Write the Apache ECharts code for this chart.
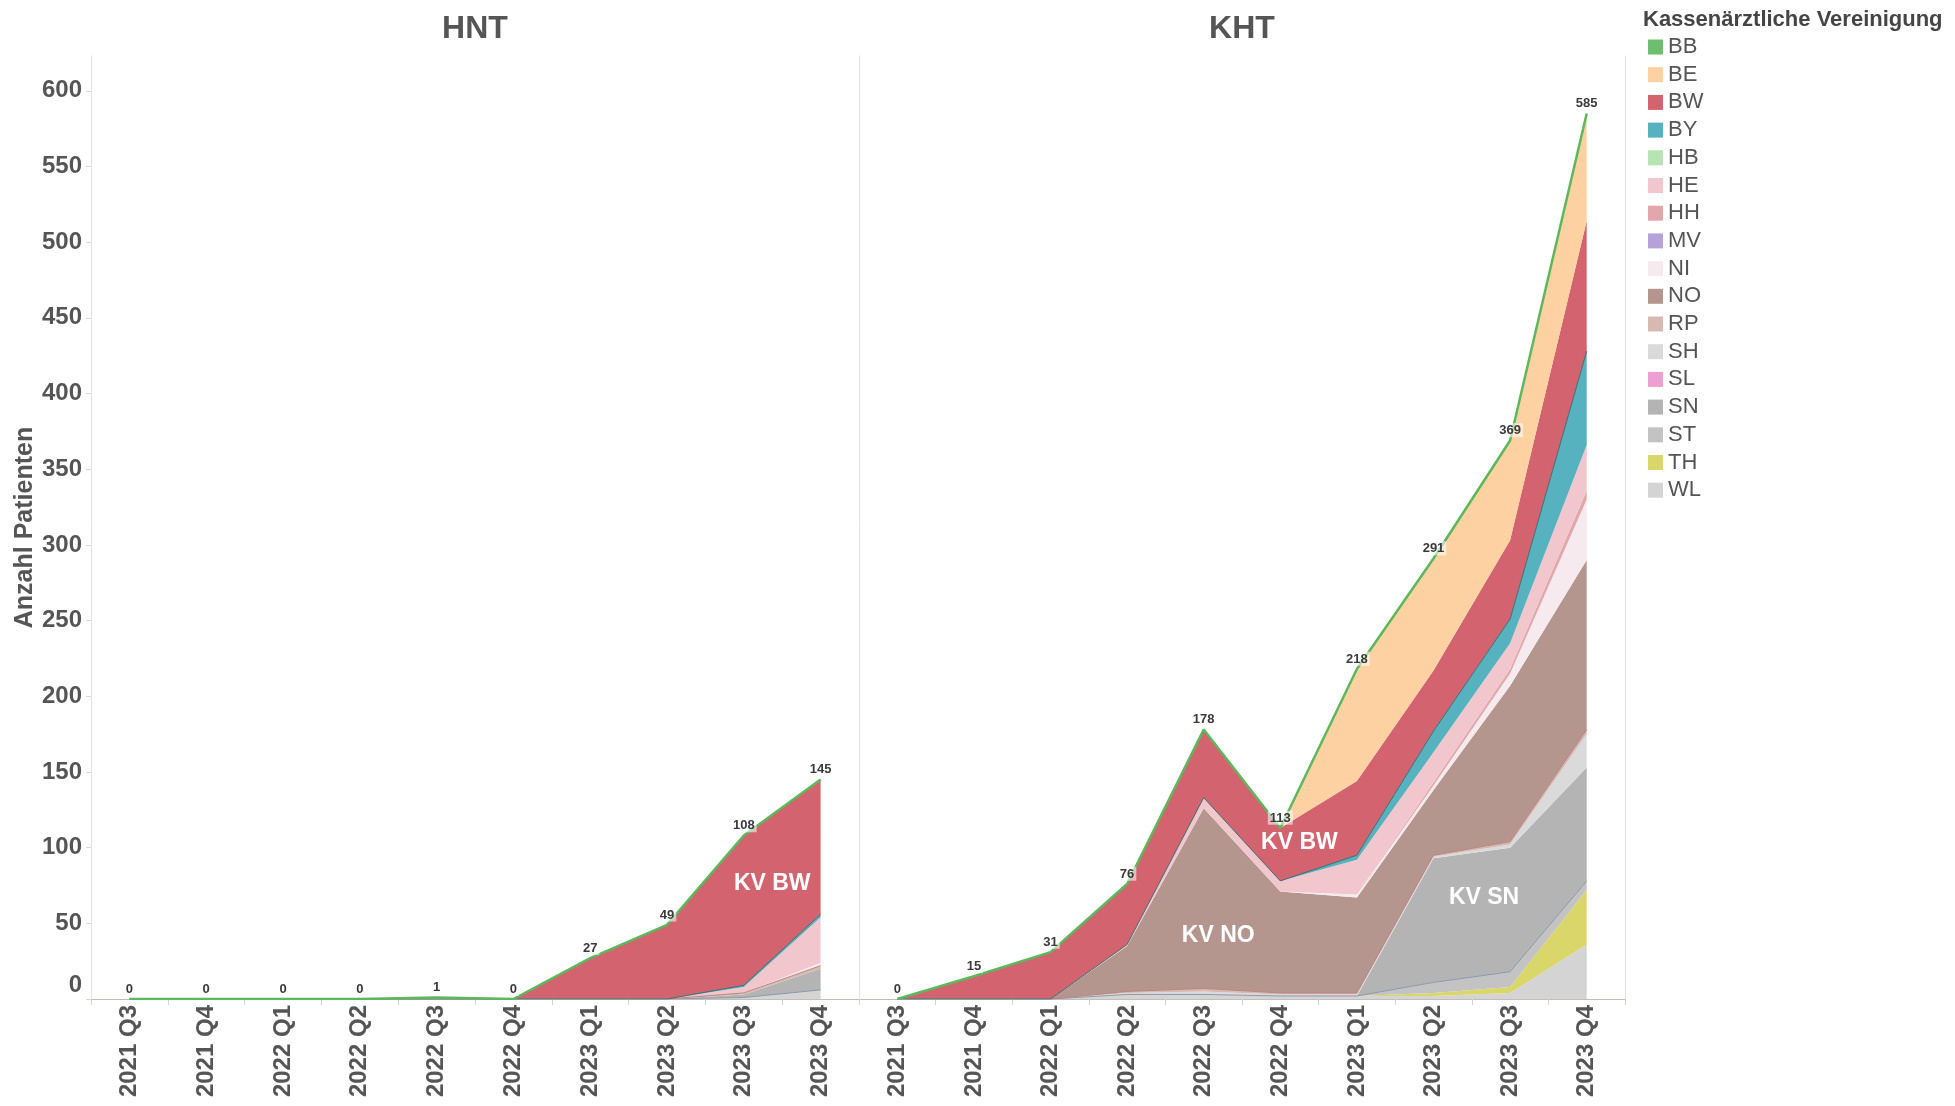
<!DOCTYPE html>
<html>
<head>
<meta charset="utf-8">
<script src="https://cdn.jsdelivr.net/npm/echarts@6/dist/echarts.min.js"></script>
<style>html,body{margin:0;padding:0;background:#fff;}#c{width:1955px;height:1106px;}</style>
</head>
<body>
<div id="c"></div>
<script>
// ---------- DATA ----------
const categories = ['2021 Q3','2021 Q4','2022 Q1','2022 Q2','2022 Q3','2022 Q4','2023 Q1','2023 Q2','2023 Q3','2023 Q4'];
const kvNames = ['BB','BE','BW','BY','HB','HE','HH','MV','NI','NO','RP','SH','SL','SN','ST','TH','WL'];
const panelTitles = ['HNT','KHT'];
const yTicks = [0,50,100,150,200,250,300,350,400,450,500,550,600];

// HNT
const hnt_BB = [0,0,0,0,1,0,0,0,0,0];
const hnt_BE = [0,0,0,0,0,0,0,0,0,0];
const hnt_BW = [0,0,0,0,0,0,27,49,99,89];
const hnt_BY = [0,0,0,0,0,0,0,0,1,2];
const hnt_HB = [0,0,0,0,0,0,0,0,0,0];
const hnt_HE = [0,0,0,0,0,0,0,0,4,30];
const hnt_HH = [0,0,0,0,0,0,0,0,0,0];
const hnt_MV = [0,0,0,0,0,0,0,0,0,0];
const hnt_NI = [0,0,0,0,0,0,0,0,0,2];
const hnt_NO = [0,0,0,0,0,0,0,0,0,0];
const hnt_RP = [0,0,0,0,0,0,0,0,1,2];
const hnt_SH = [0,0,0,0,0,0,0,0,0,0];
const hnt_SL = [0,0,0,0,0,0,0,0,0,0];
const hnt_SN = [0,0,0,0,0,0,0,0,2,14];
const hnt_ST = [0,0,0,0,0,0,0,0,0,0];
const hnt_TH = [0,0,0,0,0,0,0,0,0,0];
const hnt_WL = [0,0,0,0,0,0,0,0,1,6];

// KHT
const kht_BB = [0,0,0,0,0,0,1,1,1,2];
const kht_BE = [0,0,0,0,0,0,73,73,65,69];
const kht_BW = [0,15,31,40,45,35,49,40,52,86];
const kht_BY = [0,0,0,0,0,0,3,14,16,62];
const kht_HB = [0,0,0,0,0,0,0,0,0,0];
const kht_HE = [0,0,0,1,7,7,23,20,17,30];
const kht_HH = [0,0,0,0,0,0,0,2,3,6];
const kht_MV = [0,0,0,0,0,0,0,0,0,0];
const kht_NI = [0,0,0,0,0,0,2,3,8,40];
const kht_NO = [0,0,0,30,119,67,63,43,103,112];
const kht_RP = [0,0,0,1,2,1,1,1,2,3];
const kht_SH = [0,0,0,1,2,1,1,1,2,22];
const kht_SL = [0,0,0,0,0,0,0,0,0,0];
const kht_SN = [0,0,0,0,0,0,0,82,82,75];
const kht_ST = [0,0,0,0,0,0,0,7,10,6];
const kht_TH = [0,0,0,0,0,0,0,2,4,36];
const kht_WL = [0,0,0,3,3,2,2,2,4,36];

// annotation labels (data space: category index, value)
const annoText  = ['KV BW','KV BW','KV NO','KV SN'];
const annoPanel = [0,1,1,1];
const annoIdx   = [8.37,5.25,4.19,7.66];
const annoVal   = [76,103,42,67];

// ---------- BUILD ----------
const hntData = {BB:hnt_BB,BE:hnt_BE,BW:hnt_BW,BY:hnt_BY,HB:hnt_HB,HE:hnt_HE,HH:hnt_HH,MV:hnt_MV,NI:hnt_NI,NO:hnt_NO,RP:hnt_RP,SH:hnt_SH,SL:hnt_SL,SN:hnt_SN,ST:hnt_ST,TH:hnt_TH,WL:hnt_WL};
const khtData = {BB:kht_BB,BE:kht_BE,BW:kht_BW,BY:kht_BY,HB:kht_HB,HE:kht_HE,HH:kht_HH,MV:kht_MV,NI:kht_NI,NO:kht_NO,RP:kht_RP,SH:kht_SH,SL:kht_SL,SN:kht_SN,ST:kht_ST,TH:kht_TH,WL:kht_WL};
const panels = [hntData, khtData];

const colors = {BB:'#6dbf6d',BE:'#fdd1a2',BW:'#d3636e',BY:'#55b2be',HB:'#b8e3b2',HE:'#f1c6cc',HH:'#e3a6aa',MV:'#b7a1d9',NI:'#f7eaee',NO:'#b5968f',RP:'#d7b9b2',SH:'#dadada',SL:'#ee9fd2',SN:'#b4b4b4',ST:'#c3c3c3',TH:'#d9d76a',WL:'#d4d4d4'};
const lines = {BB:{width:2.5,color:'#5db75d'},BY:{width:1,color:'#3c6e72'},RP:{width:1,color:'#b88580'},ST:{width:1,color:'#8d98ab'}};

const stackOrder = kvNames.slice().reverse(); // bottom -> top: WL ... BB
const FONT = 'Liberation Sans, Arial, sans-serif';

const series = [];
panels.forEach((pd, g) => {
  const totals = categories.map((c, i) => kvNames.reduce((s, k) => s + pd[k][i], 0));
  stackOrder.forEach(k => {
    const isTop = k === 'BB';
    const ls = lines[k] || {width:0};
    series.push({
      name: k, type: 'line', stack: 'p' + g,
      xAxisIndex: g, yAxisIndex: g,
      data: pd[k],
      symbol: isTop ? 'circle' : 'none',
      symbolSize: isTop ? 0.5 : 0,
      showSymbol: isTop,
      itemStyle: {color: colors[k]},
      lineStyle: {width: ls.width, color: ls.color || colors[k], opacity: ls.width ? 1 : 0},
      areaStyle: {color: colors[k], opacity: 1},
      emphasis: {disabled: true},
      silent: true,
      z: isTop ? 3 : 2,
      label: isTop ? {
        show: true, position: 'top', distance: 3,
        formatter: p => String(totals[p.dataIndex]),
        fontSize: 13, fontWeight: 'bold', color: '#3a3a3a', fontFamily: FONT,
        backgroundColor: 'rgba(255,255,255,0.55)', padding: [1,2,0,2]
      } : {show: false}
    });
  });
});

const yLabel = {
  fontSize: 24, fontWeight: 'bold', color: '#555', fontFamily: FONT, margin: 9,
  showMaxLabel: false,
  formatter: v => v === 0 ? '{z|0}' : String(v),
  rich: {z: {fontSize: 24, fontWeight: 'bold', color: '#555', fontFamily: FONT, padding: [0,0,28,0]}}
};

const option = {
  animation: false,
  backgroundColor: '#fff',
  grid: [
    {left: 91, top: 56, width: 768, height: 943},
    {left: 859, top: 56, width: 766, height: 943}
  ],
  xAxis: [0,1].map(g => ({
    type: 'category', gridIndex: g, data: categories, boundaryGap: true,
    axisLine: {show: true, lineStyle: {color: '#c2beb4', width: 1}},
    axisTick: {show: true, length: 6, lineStyle: {color: '#d4d4d4'}},
    axisLabel: {rotate: 90, interval: 0, fontSize: 24, fontWeight: 'bold', color: '#555', fontFamily: FONT, margin: 6},
    splitLine: {show: false}
  })),
  yAxis: [
    {type: 'value', gridIndex: 0, min: 0, max: 623, interval: 50,
     name: 'Anzahl Patienten', nameLocation: 'middle', nameGap: 52,
     nameTextStyle: {fontSize: 25, fontWeight: 'bold', color: '#555', fontFamily: FONT},
     axisLine: {show: true, lineStyle: {color: '#e2e2e2'}},
     axisTick: {show: true, length: 5, lineStyle: {color: '#d8d8d8'}},
     axisLabel: yLabel, splitLine: {show: false}},
    {type: 'value', gridIndex: 1, min: 0, max: 623, interval: 50,
     axisLine: {show: true, lineStyle: {color: '#e2e2e2'}},
     axisTick: {show: false}, axisLabel: {show: false}, splitLine: {show: false}},
    {type: 'value', gridIndex: 1, min: 0, max: 623, interval: 50, position: 'right',
     axisLine: {show: true, lineStyle: {color: '#e2e2e2'}},
     axisTick: {show: false}, axisLabel: {show: false}, splitLine: {show: false}}
  ],
  legend: {
    data: kvNames, orient: 'vertical', left: 1643, top: 31,
    itemWidth: 15, itemHeight: 15, itemGap: 5.7, icon: 'rect',
    selectedMode: false,
    textStyle: {fontSize: 22, color: '#555', fontFamily: FONT}
  },
  series: series,
  graphic: []
};

const chart = echarts.init(document.getElementById('c'), null, {renderer: 'canvas'});
chart.setOption(option);

// titles + annotations placed through the library's coordinate system
function px(g, idx, val) {
  const i0 = Math.floor(idx), f = idx - i0;
  const a = chart.convertToPixel({xAxisIndex: g, yAxisIndex: g}, [i0, val]);
  const b = chart.convertToPixel({xAxisIndex: g, yAxisIndex: g}, [Math.min(i0 + 1, categories.length - 1), val]);
  return [a[0] + f * (b[0] - a[0]), a[1]];
}
const graphics = [];
panelTitles.forEach((t, g) => {
  const rect = chart.getModel().getComponent('grid', g).coordinateSystem.getRect();
  graphics.push({type: 'text', x: rect.x + rect.width / 2, y: 29, z: 10,
    style: {text: t, align: 'center', verticalAlign: 'middle', font: 'bold 32px ' + FONT, fill: '#555'}});
});
graphics.push({type: 'text', x: 1643, y: 20, z: 10,
  style: {text: 'Kassenärztliche Vereinigung', align: 'left', verticalAlign: 'middle', font: 'bold 22px ' + FONT, fill: '#454545'}});
annoText.forEach((t, i) => {
  const p = px(annoPanel[i], annoIdx[i], annoVal[i]);
  graphics.push({type: 'text', x: p[0], y: p[1], z: 10,
    style: {text: t, align: 'center', verticalAlign: 'middle', font: 'bold 23px ' + FONT, fill: '#ffffff'}});
});
chart.setOption({graphic: graphics});
</script>
</body>
</html>
